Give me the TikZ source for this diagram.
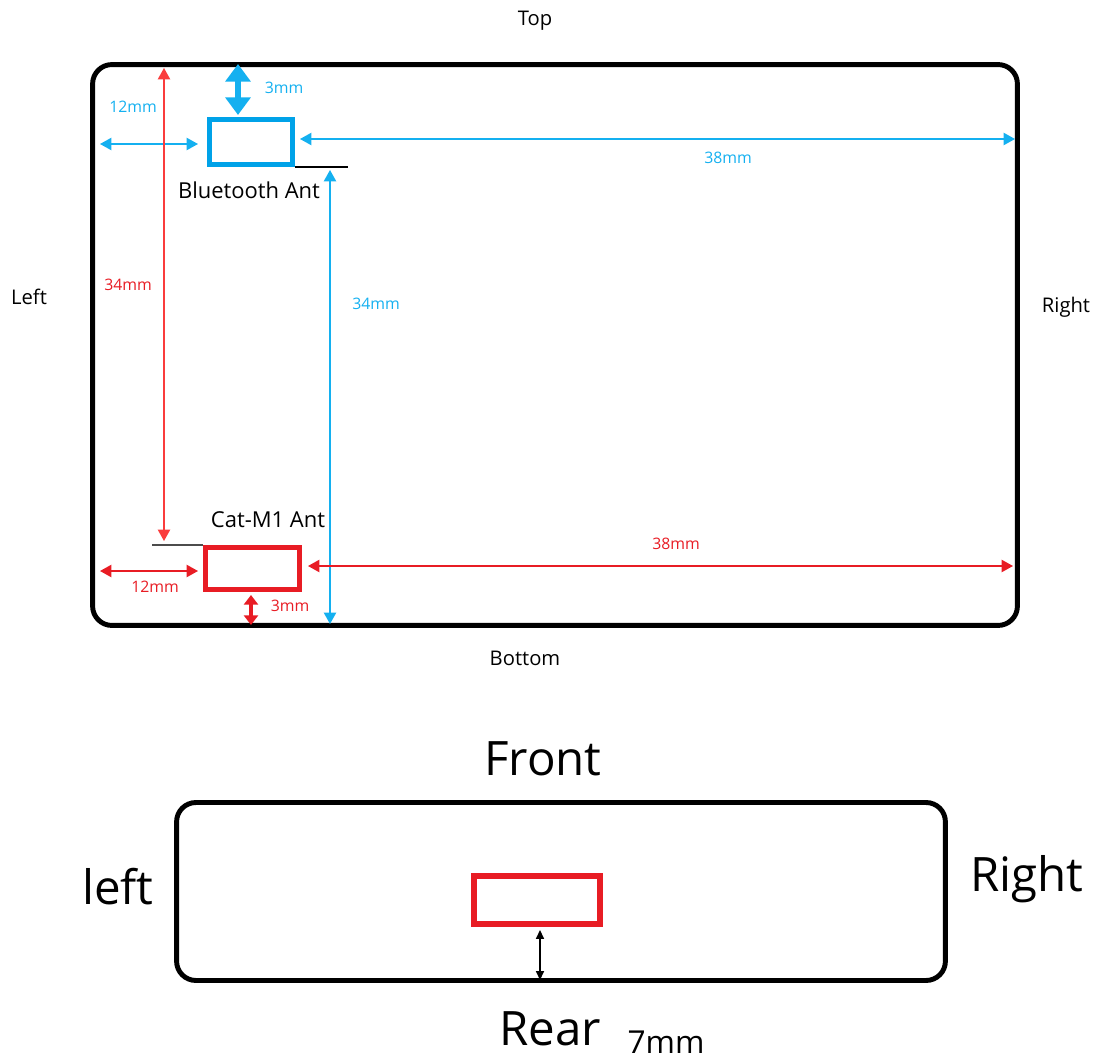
\documentclass[tikz,border=0pt]{standalone}
\usepackage{fontspec}
\setmainfont{Open Sans}
\usetikzlibrary{arrows.meta}
\definecolor{btblue}{RGB}{0,162,232}
\definecolor{btarrow}{RGB}{20,176,240}
\definecolor{catred}{RGB}{232,28,36}
\definecolor{dimred}{RGB}{250,60,60}

\begin{document}
\begin{tikzpicture}[x=0.02cm,y=-0.02cm,
    board/.style={draw,line width=2.8pt,rounded corners=11pt,inner sep=0pt},
    ant box/.style={draw,line width=2.8pt,inner sep=0pt},
    side label/.style={font=\fontsize{11.5}{13}\selectfont},
    big label/.style={font=\fontsize{27}{30}\selectfont},
    ant label/.style={font=\fontsize{12.5}{15}\selectfont},
    dim label/.style={font=\fontsize{9}{11}\selectfont},
    dim/.style={<->,>={Triangle[length=6.5pt,width=7pt]},line width=0.9pt}]
    \useasboundingbox (0,0) rectangle (1096,1061);

    % top view
    \node[board,minimum width=18.5cm,minimum height=11.22cm] (top board) at (555,345) {};
    \node[ant box,btblue,minimum width=1.66cm,minimum height=0.9cm] (bt ant) at (251,142) {};
    \node[ant box,catred,minimum width=1.88cm,minimum height=0.84cm] (cat ant) at (252.5,568.5) {};

    \node[side label] (top) at (535,21) {Top};
    \node[side label] (left) at (29,297) {Left};
    \node[side label] (right) at (1066,307) {Right};
    \node[side label] (bottom) at (525,658) {Bottom};
    \node[ant label] (bt name) at (249,190) {Bluetooth Ant};
    \node[ant label] (cat name) at (268,520) {Cat-M1 Ant};

    % end points of the dimensions
    \coordinate (bt top) at (238,64);
    \coordinate (bt topbox) at (238,115);
    \coordinate (bt left) at (100,144);
    \coordinate (bt leftbox) at (198,144);
    \coordinate (bt rightbox) at (300,139);
    \coordinate (bt right) at (1015,139);
    \coordinate (bt boxcorner) at (295,167);
    \coordinate (bt ref) at (348,167);
    \coordinate (bt refa) at (330,170);
    \coordinate (bt refb) at (330,624);
    \coordinate (cat refa) at (164,68);
    \coordinate (cat refb) at (164,541);
    \coordinate (cat boxcorner) at (203,545);
    \coordinate (cat ref) at (152,545);
    \coordinate (cat left) at (100,571);
    \coordinate (cat leftbox) at (198,571);
    \coordinate (cat rightbox) at (308,566);
    \coordinate (cat right) at (1013,566);
    \coordinate (cat botbox) at (251,595);
    \coordinate (cat bot) at (251,625);

    \draw[line width=1pt] (bt boxcorner) -- (bt ref);
    \draw[line width=1pt,black!70] (cat boxcorner) -- (cat ref);

    \draw[dim,btarrow,line width=3.6pt,>={Triangle[length=10pt,width=14pt]}] (bt top) -- (bt topbox);
    \draw[dim,btarrow] (bt left) -- (bt leftbox);
    \draw[dim,btarrow] (bt rightbox) -- (bt right);
    \draw[dim,btarrow] (bt refa) -- (bt refb);
    \draw[dim,dimred] (cat refa) -- (cat refb);
    \draw[dim,catred] (cat left) -- (cat leftbox);
    \draw[dim,catred] (cat rightbox) -- (cat right);
    \draw[dim,catred,line width=1.8pt,>={Triangle[length=5.5pt,width=8pt]}] (cat botbox) -- (cat bot);

    \node[dim label,btarrow] (bt 3mm) at (284,88) {3mm};
    \node[dim label,btarrow] (bt 12mm) at (133,107) {12mm};
    \node[dim label,btarrow] (bt 38mm) at (728,158) {38mm};
    \node[dim label,btarrow] (bt 34mm) at (376,304) {34mm};
    \node[dim label,catred] (cat 34mm) at (128,285) {34mm};
    \node[dim label,catred] (cat 12mm) at (155,587) {12mm};
    \node[dim label,catred] (cat 3mm) at (290,606) {3mm};
    \node[dim label,catred] (cat 38mm) at (676,544) {38mm};

    % side view
    \node[board,minimum width=15.38cm,minimum height=3.56cm] (side board) at (561,891.5) {};
    \node[ant box,catred,line width=3.4pt,minimum width=2.52cm,minimum height=0.96cm] (side ant) at (537,900) {};
    \coordinate (side antbot) at (540,930);
    \coordinate (side bot) at (540,980);
    \draw[dim,line width=0.8pt,>={Triangle[length=5pt,width=4.5pt]}] (side antbot) -- (side bot);

    \node[big label] (front) at (543,759) {Front};
    \node[big label] (side left) at (118,887) {left};
    \node[big label] (side right) at (1027,879) {Right};
    \node[big label] (rear) at (550,1029) {Rear};
    \node[font=\fontsize{18}{21}\selectfont] (side 7mm) at (666,1042) {7mm};
\end{tikzpicture}
\end{document}
